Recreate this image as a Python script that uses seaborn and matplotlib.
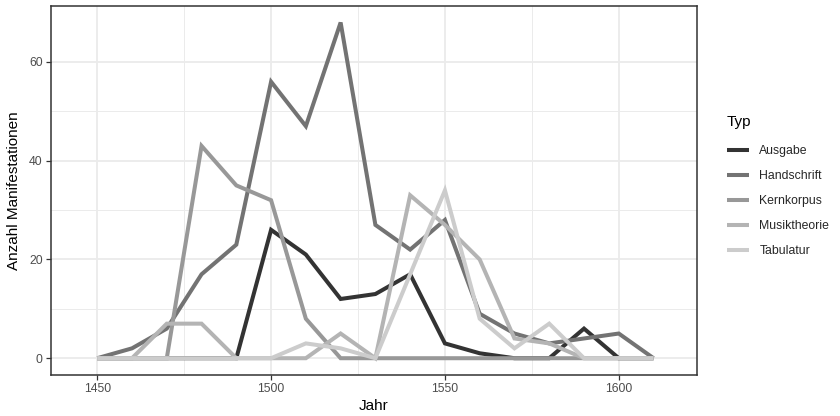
import matplotlib
matplotlib.use("Agg")
import matplotlib.pyplot as plt
import seaborn as sns
import pandas as pd
import numpy as np

# Manifestations per decade, by type
years = [1450, 1460, 1470, 1480, 1490, 1500, 1510, 1520, 1530,
         1540, 1550, 1560, 1570, 1580, 1590, 1600, 1610]
ausgabe = [0, 0, 0, 0, 0, 26, 21, 12, 13, 17, 3, 1, 0, 0, 6, 0, 0]
handschrift = [0, 2, 6, 17, 23, 56, 47, 68, 27, 22, 28, 9, 5, 3, 4, 5, 0]
kernkorpus = [0, 0, 0, 43, 35, 32, 8, 0, 0, 0, 0, 0, 0, 0, 0, 0, 0]
musiktheorie = [0, 0, 7, 7, 0, 0, 0, 5, 0, 33, 27, 20, 4, 3, 0, 0, 0]
tabulatur = [0, 0, 0, 0, 0, 0, 3, 2, 0, 17, 34, 8, 2, 7, 0, 0, 0]

types = ["Ausgabe", "Handschrift", "Kernkorpus", "Musiktheorie", "Tabulatur"]
series = [ausgabe, handschrift, kernkorpus, musiktheorie, tabulatur]
greys = ["#333333", "#737373", "#989898", "#B4B4B4", "#CCCCCC"]

df = pd.DataFrame({
    "Jahr": years * len(types),
    "Anzahl": [v for s in series for v in s],
    "Typ": [t for t in types for _ in years],
})

sns.set_style("white")
plt.rcParams["font.family"] = ["Liberation Sans", "DejaVu Sans"]

fig = plt.figure(figsize=(8.4, 4.16), dpi=100)
W, H = 840, 416
left, right, top, bottom = 51, 697, 5.7, 375
ax = fig.add_axes([left / W, 1 - bottom / H, (right - left) / W, (bottom - top) / H])

sns.lineplot(data=df, x="Jahr", y="Anzahl", hue="Typ", hue_order=types,
             palette=greys, linewidth=2.9, ax=ax, legend=True,
             solid_joinstyle="miter", solid_capstyle="butt")

ax.set_xlim(1436.7, 1622.5)
ax.set_ylim(-3.4, 71.4)
ax.set_xticks([1450, 1500, 1550, 1600])
ax.set_xticks([1475, 1525, 1575], minor=True)
ax.set_yticks([0, 20, 40, 60])
ax.set_yticks([10, 30, 50], minor=True)

ax.grid(True, which="major", color="#EBEBEB", linewidth=1.3)
ax.grid(True, which="minor", color="#EBEBEB", linewidth=0.7)
ax.set_axisbelow(True)

for sp in ax.spines.values():
    sp.set_visible(True)
    sp.set_color("#333333")
    sp.set_linewidth(1.1)

ax.tick_params(axis="both", which="major", length=3.8, width=0.9,
               color="#333333", labelcolor="#4D4D4D", labelsize=8.8, pad=2.2,
               left=True, bottom=True)
ax.tick_params(axis="both", which="minor", length=0)

ax.set_xlabel("Jahr", fontsize=11, color="black", labelpad=3)
ax.set_ylabel("Anzahl Manifestationen", fontsize=11, color="black", labelpad=6)

# Legend: title as its own text, keys below it
fig.text(727 / W, 1 - 122 / H, "Typ", fontsize=11, color="black",
         ha="left", va="center")
handles, labels = ax.get_legend_handles_labels()
for h in handles:
    h.set_linewidth(2.9)
ax.legend(handles, labels, loc="upper left",
          bbox_to_anchor=(727 / W, 1 - 145 / H), bbox_transform=fig.transFigure,
          frameon=False, fontsize=8.8,
          borderpad=0, borderaxespad=0, handlelength=1.8, handletextpad=0.85,
          labelspacing=1.06)

fig.savefig("out.png", dpi=100)
